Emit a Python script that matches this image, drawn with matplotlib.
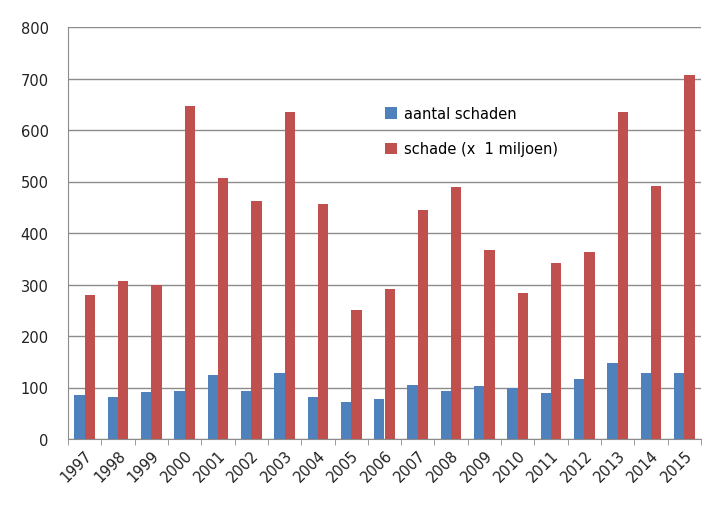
import numpy as np
import matplotlib
matplotlib.use('Agg')
import matplotlib.pyplot as plt
from matplotlib.ticker import FixedLocator, NullFormatter

plt.rcParams['font.family'] = ['DejaVu Sans']
plt.rcParams['font.size'] = 10

years = [str(y) for y in range(1997, 2016)]
aantal = [86, 81, 91, 94, 125, 94, 128, 81, 72, 78, 105, 94, 102, 99, 89, 117, 147, 128, 128]
schade = [280, 306, 299, 646, 506, 462, 634, 456, 250, 292, 445, 489, 367, 284, 342, 364, 634, 491, 706]

blue = '#4F81BD'
red = '#C0504D'
grid = '#8c8c8c'

fig = plt.figure(figsize=(7.02, 5.06), dpi=100)
ax = fig.add_axes([68 / 702, 1 - 440 / 506, 633 / 702, 412 / 506])

x = np.arange(len(years))
w = 0.31
ax.bar(x - w / 2, aantal, w, color=blue, label='aantal schaden', zorder=3)
ax.bar(x + w / 2, schade, w, color=red, label='schade (x  1 miljoen)', zorder=3)

ax.set_xlim(-0.5, len(years) - 0.5)
ax.set_ylim(0, 800)
ax.set_yticks(range(0, 801, 100))
ax.yaxis.grid(True, color=grid, linewidth=1.0, zorder=0)
ax.tick_params(axis='y', length=0, pad=14, labelsize=10.5, colors='#222222')

ax.set_xticks(x)
ax.set_xticklabels(years, rotation=45, ha='right', rotation_mode='anchor')
ax.tick_params(axis='x', which='major', length=0, pad=6, labelsize=10.5, colors='#222222')
ax.xaxis.set_minor_locator(FixedLocator(np.arange(-0.5, len(years), 1.0)))
ax.xaxis.set_minor_formatter(NullFormatter())
ax.tick_params(axis='x', which='minor', length=4, color=grid, direction='out')

for s in ['top', 'right']:
    ax.spines[s].set_visible(False)
for s in ['left', 'bottom']:
    ax.spines[s].set_color(grid)

ax.legend(loc='upper left', bbox_to_anchor=(0.48, 0.84), frameon=False,
          handlelength=0.8, handleheight=0.8, handletextpad=0.5,
          labelspacing=1.4, fontsize=10.5)

fig.savefig('out.png', dpi=100)
